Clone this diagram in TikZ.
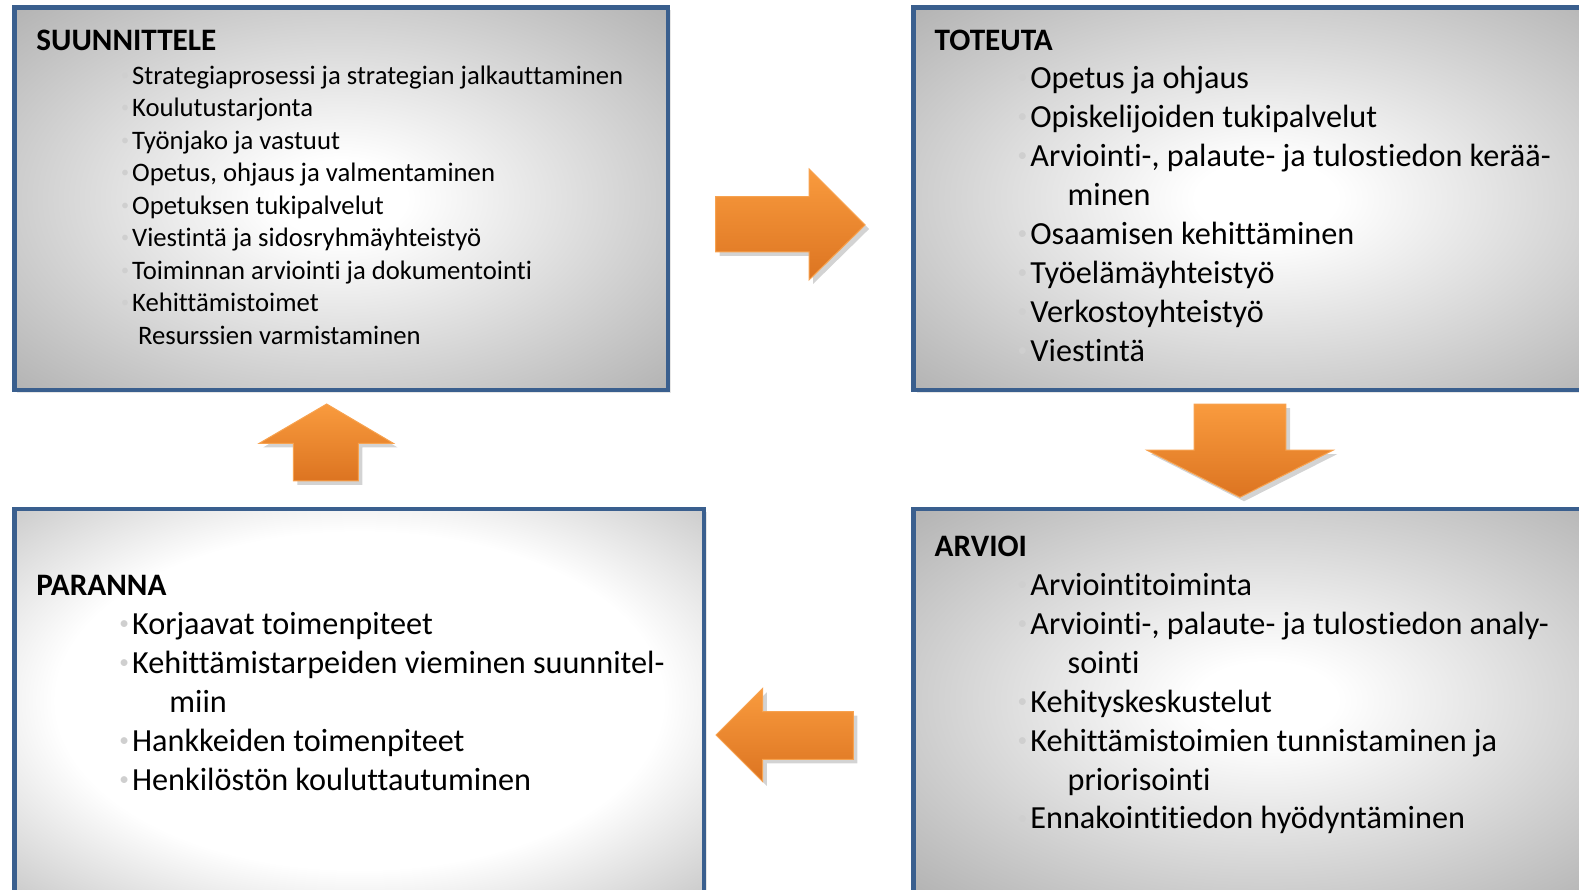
\documentclass[tikz,border=0pt]{standalone}
\usepackage{fontspec}
\setmainfont{Carlito}[Ligatures = {NoCommon, NoContextual}]
\usetikzlibrary{shadows}

\definecolor{boxblue}{HTML}{3A5F8E}
\definecolor{arrowtop}{HTML}{F99B3E}
\definecolor{arrowbottom}{HTML}{DC7421}
\definecolor{arrowedge}{HTML}{F7A24F}
\definecolor{bulletgray}{HTML}{CFCFCF}

\pgfdeclareradialshading{boxglow}{\pgfpoint{0bp}{0bp}}{%
	color(0bp)=(white); color(5bp)=(white);
	color(50bp)=(black!44); color(72bp)=(black!54)}
\pgfdeclareradialshading{boxglowwide}{\pgfpoint{0bp}{0bp}}{%
	color(0bp)=(white); color(22bp)=(white);
	color(50bp)=(black!42); color(72bp)=(black!55)}

\newcommand{\bul}{\llap{\raisebox{0.15em}{\textcolor{bulletgray}{\scalebox{0.6}{•}}}\hspace{3pt}}}
\newcommand{\cont}{\hspace*{37pt}}

\tikzset{
	pdcapicture/.style = {
		x = 1pt,
		y = -1pt,
		phasebox/.style = {
			draw = boxblue,
			line width = 4.5pt,
			shading = boxglow,
			inner sep = 0pt,
			anchor = north west,
			drop shadow = {shadow xshift = 3pt, shadow yshift = -3pt, opacity = .2}
		},
		flowarrow/.style = {
			top color = arrowtop,
			bottom color = arrowbottom,
			draw = arrowedge,
			line width = 1pt,
			drop shadow = {shadow xshift = 4pt, shadow yshift = -4pt, opacity = .35}
		}
	},
	phasetitle/.style = {
		anchor = base west,
		inner sep = 0pt,
		font = \fontsize{31}{37}\selectfont\bfseries
	},
	phaseitem/.style = {
		anchor = base west,
		inner sep = 0pt,
		font = \fontsize{32}{38}\selectfont
	},
	smallitem/.style = {
		anchor = base west,
		inner sep = 0pt,
		font = \fontsize{26.5}{32}\selectfont
	}
}

\begin{document}
\begin{tikzpicture}[pdcapicture]
	\useasboundingbox (0,0) rectangle (1568,883);
	\clip (0,0) rectangle (1568,883);

	\node[phasebox, minimum width = 649, minimum height = 380] (suunnittele) at (12,5) {};
	\node[phasebox, minimum width = 700, minimum height = 380] (toteuta) at (905,5) {};
	\node[phasebox, minimum width = 700, minimum height = 381] (arvioi) at (905,503) {};
	\node[phasebox, shading = boxglowwide, minimum width = 685, minimum height = 381] (paranna) at (12,503) {};

	\node[phasetitle] (suunnittele-title) at (36,50) {SUUNNITTELE};
	\foreach \txt [count = \i from 0] in {
		\bul Strategiaprosessi ja strategian jalkauttaminen,
		\bul Koulutustarjonta,
		\bul Työnjako ja vastuut,
		{\bul Opetus, ohjaus ja valmentaminen},
		\bul Opetuksen tukipalvelut,
		\bul Viestintä ja sidosryhmäyhteistyö,
		\bul Toiminnan arviointi ja dokumentointi,
		\bul Kehittämistoimet,
		\bul\ Resurssien varmistaminen}
		\node[smallitem] (suunnittele-\i) at (131, 83.7 + \i*32.3) {\txt};

	\node[phasetitle] (toteuta-title) at (928,50) {TOTEUTA};
	\foreach \txt [count = \i from 0] in {
		\bul Opetus ja ohjaus,
		\bul Opiskelijoiden tukipalvelut,
		{\bul Arviointi-, palaute- ja tulostiedon kerää-},
		\cont minen,
		\bul Osaamisen kehittäminen,
		\bul Työelämäyhteistyö,
		\bul Verkostoyhteistyö,
		\bul Viestintä}
		\node[phaseitem] (toteuta-\i) at (1023, 88 + \i*38.7) {\txt};

	\node[phasetitle] (arvioi-title) at (928,553) {ARVIOI};
	\foreach \txt [count = \i from 0] in {
		\bul Arviointitoiminta,
		{\bul Arviointi-, palaute- ja tulostiedon analy-},
		\cont sointi,
		\bul Kehityskeskustelut,
		\bul Kehittämistoimien tunnistaminen ja,
		\cont priorisointi,
		\bul Ennakointitiedon hyödyntäminen}
		\node[phaseitem] (arvioi-\i) at (1023, 591 + \i*38.7) {\txt};

	\node[phasetitle] (paranna-title) at (36,591) {PARANNA};
	\foreach \txt [count = \i from 0] in {
		\bul Korjaavat toimenpiteet,
		\bul Kehittämistarpeiden vieminen suunnitel-,
		\cont miin,
		\bul Hankkeiden toimenpiteet,
		\bul Henkilöstön kouluttautuminen}
		\node[phaseitem] (paranna-\i) at (131, 630 + \i*38.7) {\txt};

	\path[flowarrow] (710.7,195.3) -- (803.4,195.3) -- (803.4,167.8) -- (859,223.4)
		-- (803.4,278) -- (803.4,250) -- (710.7,250) -- cycle;
	\path[flowarrow] (1185.7,401.2) -- (1277,401.2) -- (1277,446.9) -- (1324,446.9)
		-- (1231.4,493.8) -- (1138.7,446.9) -- (1185.7,446.9) -- cycle;
	\path[flowarrow] (847.4,706.7) -- (847.4,754) -- (757.4,754) -- (757.4,776.3)
		-- (711,729.9) -- (757.4,683.5) -- (757.4,706.7) -- cycle;
	\path[flowarrow] (291.3,477.4) -- (291.3,440.2) -- (257.5,440.2) -- (324.4,401.2)
		-- (390.6,440.2) -- (355.8,440.2) -- (355.8,477.4) -- cycle;
\end{tikzpicture}
\end{document}
